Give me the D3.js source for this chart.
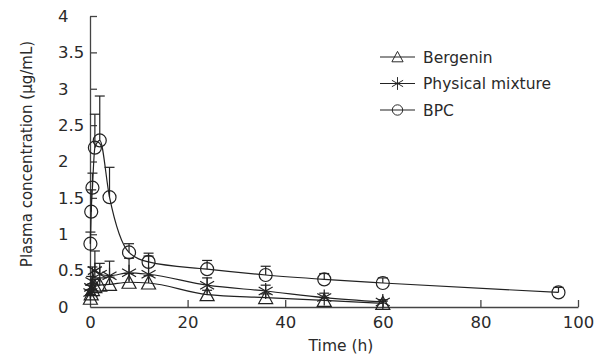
<!DOCTYPE html>
<html>
<head>
<meta charset="utf-8">
<script src="https://cdn.jsdelivr.net/npm/d3@7"></script>
<style>
  body { margin: 0; background: #fff; }
  text { font-family: "DejaVu Sans", sans-serif; fill: #2a2a2a; }
</style>
</head>
<body>
<div id="chart"></div>
<script>
const times = [0.083, 0.25, 0.5, 1, 2, 4, 8, 12, 24, 36, 48, 60, 96];
const bergenin = [0.12, 0.18, 0.24, 0.28, 0.3, 0.31, 0.34, 0.33, 0.17, 0.13, 0.09, 0.05];
const bergeninSd = [0.05, 0.06, 0.08, 0.1, 0.1, 0.1, 0.12, 0.1, 0.06, 0.05, 0.04, 0.03];
const mixture = [0.2, 0.27, 0.35, 0.5, 0.45, 0.43, 0.47, 0.45, 0.3, 0.22, 0.13, 0.07];
const mixtureSd = [0.1, 0.15, 0.2, 0.27, 0.15, 0.2, 0.2, 0.25, 0.1, 0.08, 0.06, 0.03];
const bpc = [0.87, 1.31, 1.64, 2.19, 2.29, 1.51, 0.75, 0.62, 0.52, 0.44, 0.38, 0.33, 0.2];
const bpcSd = [0.16, 0.3, 0.2, 0.46, 0.61, 0.41, 0.12, 0.12, 0.12, 0.12, 0.08, 0.07, 0.07];
const xTicks = [0, 20, 40, 60, 80, 100];
const yTicks = [0, 0.5, 1, 1.5, 2, 2.5, 3, 3.5, 4];

const W = 605, H = 356;
const margin = { top: 16, right: 27, bottom: 49, left: 90 };
const width = W - margin.left - margin.right;
const height = H - margin.top - margin.bottom;

const svg = d3.select('#chart').append('svg')
  .attr('width', W).attr('height', H)
  .append('g')
  .attr('transform', `translate(${margin.left},${margin.top})`);

const x = d3.scaleLinear().domain([0, 100]).range([0, width]);
const y = d3.scaleLinear().domain([0, 4]).range([height, 0]);

// axes, ticks pointing inward
const xAxis = svg.append('g')
  .attr('transform', `translate(0,${height})`)
  .call(d3.axisBottom(x).tickValues(xTicks).tickFormat(d => d).tickSizeInner(-7).tickSizeOuter(0).tickPadding(9));
const yAxis = svg.append('g')
  .call(d3.axisLeft(y).tickValues(yTicks).tickFormat(d => d).tickSizeInner(-7).tickSizeOuter(0));
[xAxis, yAxis].forEach(a => {
  a.select('.domain').attr('stroke', '#444').attr('stroke-width', 1.3);
  a.selectAll('.tick line').attr('stroke', '#444').attr('stroke-width', 1.3);
  a.selectAll('.tick text').attr('font-size', 16.5).attr('fill', '#2a2a2a')
    .attr('font-family', '"DejaVu Sans", sans-serif');
});
// y labels are left aligned in the reference
yAxis.selectAll('.tick text').attr('text-anchor', 'start').attr('x', -32);
xAxis.selectAll('.tick').filter(d => d === 0).select('line').remove();
yAxis.selectAll('.tick').filter(d => d === 0).select('line').remove();

svg.append('text')
  .attr('x', 341 - margin.left).attr('y', 351 - margin.top)
  .attr('text-anchor', 'middle').attr('font-size', 15.5)
  .text('Time (h)');
svg.append('text')
  .attr('transform', `translate(${32 - margin.left},${154 - margin.top}) rotate(-90)`)
  .attr('text-anchor', 'middle').attr('font-size', 15)
  .text('Plasma concentration (μg/mL)');

const series = [
  { name: 'Bergenin', vals: bergenin, sd: bergeninSd, shape: 'tri' },
  { name: 'Physical mixture', vals: mixture, sd: mixtureSd, shape: 'star' },
  { name: 'BPC', vals: bpc, sd: bpcSd, shape: 'circle' }
];

const line = d3.line()
  .x(d => x(d.t)).y(d => y(d.v))
  .curve(d3.curveMonotoneX);

function drawMarker(g, shape) {
  if (shape === 'circle') {
    g.append('circle').attr('r', 6.5).attr('fill', 'none').attr('stroke', '#222').attr('stroke-width', 1.2);
  } else if (shape === 'tri') {
    g.append('path').attr('d', 'M0,-7L7,6L-7,6Z').attr('fill', 'none').attr('stroke', '#222').attr('stroke-width', 1.2);
  } else {
    g.append('path').attr('d', 'M0,-8V8M-7,-4L7,4M-7,4L7,-4').attr('fill', 'none').attr('stroke', '#222').attr('stroke-width', 1.2);
  }
}

series.forEach(s => {
  const pts = s.vals.map((v, i) => ({ t: times[i], v, sd: s.sd[i] }));
  svg.append('path').datum(pts)
    .attr('d', line).attr('fill', 'none').attr('stroke', '#222').attr('stroke-width', 1.2);
  const eb = svg.append('g').selectAll('g').data(pts).enter().append('g');
  eb.append('line')
    .attr('x1', d => x(d.t)).attr('x2', d => x(d.t))
    .attr('y1', d => y(d.v)).attr('y2', d => y(d.v + d.sd))
    .attr('stroke', '#222').attr('stroke-width', 1.2);
  eb.append('line')
    .attr('x1', d => x(d.t) - 5).attr('x2', d => x(d.t) + 5)
    .attr('y1', d => y(d.v + d.sd)).attr('y2', d => y(d.v + d.sd))
    .attr('stroke', '#222').attr('stroke-width', 1.2);
  svg.append('g').selectAll('g').data(pts).enter().append('g')
    .attr('transform', d => `translate(${x(d.t)},${y(d.v)})`)
    .each(function () { drawMarker(d3.select(this), s.shape); });
});

// legend
const legend = svg.append('g').attr('transform', `translate(${380 - margin.left},${57 - margin.top})`);
series.forEach((s, i) => {
  const g = legend.append('g').attr('transform', `translate(0,${i * 26.5})`);
  g.append('line').attr('x1', 0).attr('x2', 35).attr('stroke', '#222').attr('stroke-width', 1.2);
  const m = g.append('g').attr('transform', 'translate(17.5,0) scale(0.8)');
  drawMarker(m, s.shape);
  g.append('text').attr('x', 43).attr('y', 5.5).attr('font-size', 15.5).text(s.name);
});
</script>
</body>
</html>
